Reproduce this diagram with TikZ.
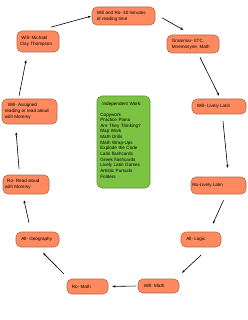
\documentclass[tikz,border=0pt]{standalone}
\usepackage{fontspec}
\setmainfont{Liberation Sans}
\usetikzlibrary{arrows.meta}
\definecolor{ofill}{HTML}{FF8A60}
\definecolor{odraw}{HTML}{B0684C}
\definecolor{gfill}{HTML}{7CC243}
\definecolor{gdraw}{HTML}{5B8F33}
\begin{document}
\begin{tikzpicture}[x=1pt,y=-1pt,
  obox/.style={draw=odraw,fill=ofill,rounded corners=5pt,line width=0.6pt,inner sep=0pt},
  gbox/.style={draw=gdraw,fill=gfill,rounded corners=5pt,line width=0.6pt,inner sep=0pt},
  txt/.style={inner sep=0pt,align=left,font=\fontsize{4.6}{6.2}\selectfont},
  gtxt/.style={inner sep=0pt,align=left,text width=48pt,font=\fontsize{4.6}{5.64}\selectfont},
  arr/.style={-{Stealth[length=3pt,width=2.4pt]},line width=0.6pt,black}]
\useasboundingbox (0,0) rectangle (247,320);
% boxes
\node[obox,minimum width=63pt,minimum height=18pt] (top) at (123.5,16) {};
\node[obox,minimum width=52pt,minimum height=18pt] (gram) at (193,44) {};
\node[obox,minimum width=42pt,minimum height=21pt] (mct) at (38,41.5) {};
\node[obox,minimum width=55pt,minimum height=25pt] (assigned) at (29.5,111.5) {};
\node[gbox,minimum width=53pt,minimum height=92pt] (indep) at (123.5,142) {};
\node[obox,minimum width=54pt,minimum height=15pt] (wll) at (219,106.5) {};
\node[obox,minimum width=55pt,minimum height=17pt] (rll) at (218.5,185.5) {};
\node[obox,minimum width=46pt,minimum height=19pt] (roread) at (26,184.5) {};
\node[obox,minimum width=43pt,minimum height=15pt] (geo) at (37.5,239.5) {};
\node[obox,minimum width=40pt,minimum height=15pt] (logic) at (201,239.5) {};
\node[obox,minimum width=41pt,minimum height=15pt] (romath) at (87.5,286.5) {};
\node[obox,minimum width=41pt,minimum height=14pt] (willmath) at (158.5,286) {};
% texts
\node[txt,anchor=west] (topt) at ([xshift=5pt]top.west) {Will and Ro- 30 minutes\\of reading time};
\node[txt,anchor=west] (gramt) at ([xshift=5pt]gram.west) {Grammar- IITC,\\Mnemosyne, Math};
\node[txt,anchor=west] (mctt) at ([xshift=3pt]mct.west) {\hspace{1.5pt}Will- Michael\\Clay Thompson};
\node[txt,anchor=west] (assignedt) at ([xshift=3pt]assigned.west) {\hspace{3pt}Will- Assigned\\reading or read aloud\\with Mommy};
\node[txt,anchor=west] (wllt) at ([xshift=5pt]wll.west) {Will- Lively Latin};
\node[txt,anchor=west] (rllt) at ([xshift=1.5pt]rll.west) {Ro-Lively Latin};
\node[txt,anchor=west] (roreadt) at ([xshift=2pt]roread.west) {\hspace{2.3pt}Ro- Read aloud\\with Mommy};
\node[txt,anchor=west] (geot) at ([xshift=5.5pt]geo.west) {All- Geography};
\node[txt,anchor=west] (logict) at ([xshift=5.5pt]logic.west) {All- Logic};
\node[txt,anchor=west] (romatht) at ([xshift=5pt]romath.west) {Ro- Math};
\node[txt,anchor=west] (willmatht) at ([xshift=6pt]willmath.west) {Will- Math};
\node[gtxt,anchor=south west] (indept) at ([xshift=3.5pt,yshift=10pt]indep.south west)
  {\hspace*{2pt}Independent Work:\\[4.4pt]Copywork\\Practice Piano\\Are They Thinking?\\Map Work\\Math Drills\\Math Wrap-Ups\\Explode the Code\\Latin flashcards\\Greek flashcards\\Lively Latin Games\\Artistic Pursuits\\Folders};
% connectors
\draw[arr,shorten <=13.6pt,shorten >=1pt] (mct.north) -- (top.west);
\draw[arr,shorten <=8pt,shorten >=10pt] ([yshift=2pt]top.east) -- ([xshift=-1pt]gram.north);
\draw[arr,shorten <=4.5pt,shorten >=3.3pt] ([xshift=5pt]gram.south) -- ([xshift=1.5pt]wll.north);
\draw[arr,shorten <=7pt,shorten >=9pt] ([xshift=3.3pt]wll.south) -- ([xshift=10pt]rll.north);
\draw[arr,shorten <=6.6pt,shorten >=8.8pt] ([xshift=7.7pt]rll.south) -- ([xshift=8.3pt]logic.north);
\draw[arr,shorten <=11.6pt,shorten >=8.7pt] ([xshift=8.4pt]logic.south) -- ([xshift=17.2pt]willmath.north);
\draw[arr,shorten <=2pt,shorten >=4pt] (willmath.west) -- (romath.east);
\draw[arr,shorten <=7pt,shorten >=8pt] ([xshift=2pt]romath.north west) -- (geo.south);
\draw[arr,shorten <=9.2pt,shorten >=6.1pt] ([xshift=-6.5pt]geo.north) -- ([xshift=-3.3pt]roread.south);
\draw[arr,shorten <=6pt,shorten >=8pt] ([xshift=-6.5pt]roread.north) -- ([xshift=-14pt]assigned.south);
\draw[arr,shorten <=3pt,shorten >=8pt] ([xshift=-11pt]assigned.north) -- ([xshift=-10.4pt]mct.south);
\end{tikzpicture}
\end{document}
